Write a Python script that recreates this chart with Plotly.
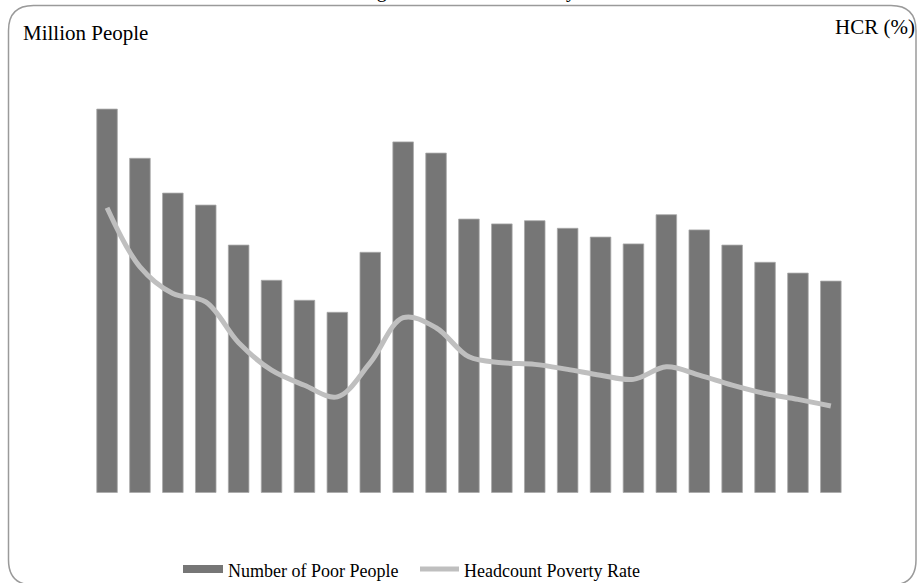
import plotly.graph_objects as go

W, H = 918, 583

# ---- data (axes are unlabelled in the reference) ----
periods = [f"P{i}" for i in range(1, 24)]
poor_people_million = [95.9, 83.6, 74.9, 71.9, 61.9, 53.1, 48.1, 45.1, 60.1, 87.7, 84.9,
                       68.4, 67.2, 68.0, 66.1, 63.9, 62.2, 69.5, 65.7, 61.9, 57.6, 54.9, 52.9]
hcr_percent = [34.2, 27.1, 23.9, 22.9, 18.0, 14.7, 12.9, 11.5, 15.6, 21.0, 19.8,
               16.3, 15.6, 15.4, 14.8, 14.1, 13.6, 15.1, 14.1, 12.9, 11.9, 11.2, 10.4]
legend_names = ["Number of Poor People", "Headcount Poverty Rate"]


def px(x):
    return x / W


def py(y):
    return 1 - y / H


BAR = "#767676"
LINE = "#BFBFBF"
FONT = "Liberation Serif"

fig = go.Figure()
fig.add_trace(go.Bar(
    x=periods, y=poor_people_million, name=legend_names[0],
    marker=dict(color=BAR, line=dict(color="#A8A8A8", width=0.8)),
    yaxis="y", showlegend=False, hoverinfo="skip"))
fig.add_trace(go.Scatter(
    x=periods, y=hcr_percent, name=legend_names[1], mode="lines",
    line=dict(color=LINE, width=5, shape="spline", smoothing=1.0),
    yaxis="y2", showlegend=False, hoverinfo="skip"))

y_bottom = py(492.7)
y_top = py(92.7)

fig.update_layout(
    width=W, height=H,
    margin=dict(l=0, r=0, t=0, b=0),
    paper_bgcolor="white", plot_bgcolor="white",
    bargap=0.375,
    xaxis=dict(domain=[px(90.6), px(847.3)], range=[-0.5, 22.5],
               showticklabels=False, showgrid=False, zeroline=False,
               showline=False, ticks=""),
    yaxis=dict(domain=[y_bottom, y_top], range=[0, 100],
               showticklabels=False, showgrid=False, zeroline=False,
               showline=False, ticks=""),
    yaxis2=dict(domain=[y_bottom, y_top], range=[0, 48], overlaying="y", side="right",
                showticklabels=False, showgrid=False, zeroline=False,
                showline=False, ticks=""),
    font=dict(family=FONT, color="#000000"),
)

# rounded chart-area border
r_x, r_y = 25 / W, 25 / H
x0, x1 = px(8.5), px(916)
y0, y1 = py(585), py(5.5)
path = (f"M {x0 + r_x},{y1} L {x1 - r_x},{y1} Q {x1},{y1} {x1},{y1 - r_y} "
        f"L {x1},{y0 + r_y} Q {x1},{y0} {x1 - r_x},{y0} "
        f"L {x0 + r_x},{y0} Q {x0},{y0} {x0},{y0 + r_y} "
        f"L {x0},{y1 - r_y} Q {x0},{y1} {x0 + r_x},{y1} Z")
fig.add_shape(type="path", path=path, xref="paper", yref="paper",
              line=dict(color="#9A9A9A", width=1.5), fillcolor="rgba(0,0,0,0)")

# title (sits at the very top edge, as in the reference)
fig.add_annotation(text="Figure 4: Absolute Poverty", xref="paper", yref="paper",
                   x=px(468), y=py(4), xanchor="center", yanchor="bottom",
                   showarrow=False, font=dict(family=FONT, size=20, color="#000"))
# axis titles
fig.add_annotation(text="Million People", xref="paper", yref="paper",
                   x=px(21), y=py(33), xanchor="left", yanchor="middle",
                   showarrow=False, font=dict(family=FONT, size=21, color="#000"))
fig.add_annotation(text="HCR (%)", xref="paper", yref="paper",
                   x=px(917), y=py(27), xanchor="right", yanchor="middle",
                   showarrow=False, font=dict(family=FONT, size=21, color="#000"))

# manual legend
fig.add_shape(type="rect", xref="paper", yref="paper",
              x0=px(183), x1=px(223), y0=py(573), y1=py(565),
              line=dict(width=0), fillcolor=BAR)
fig.add_annotation(text=legend_names[0], xref="paper", yref="paper",
                   x=px(226), y=py(571), xanchor="left", yanchor="middle",
                   showarrow=False, font=dict(family=FONT, size=18, color="#000"))
fig.add_shape(type="line", xref="paper", yref="paper",
              x0=px(420), x1=px(459), y0=py(569), y1=py(569),
              line=dict(color=LINE, width=5))
fig.add_annotation(text=legend_names[1], xref="paper", yref="paper",
                   x=px(462), y=py(571), xanchor="left", yanchor="middle",
                   showarrow=False, font=dict(family=FONT, size=18, color="#000"))

fig.write_html("out.html")
